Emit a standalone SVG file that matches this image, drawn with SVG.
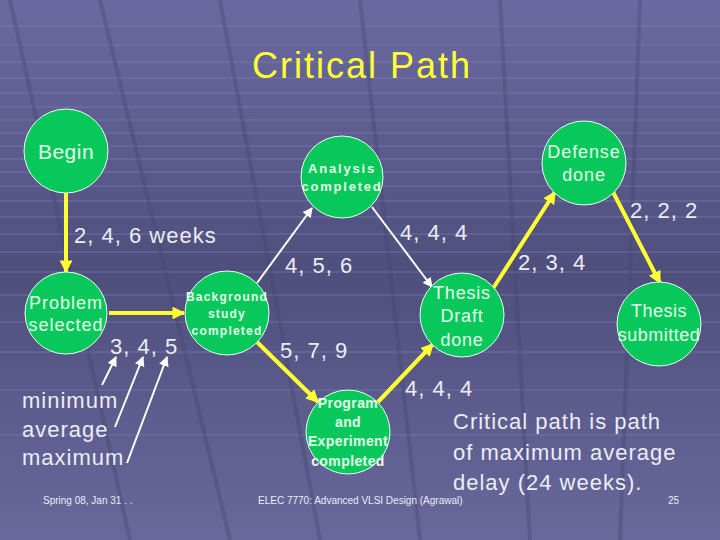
<svg xmlns="http://www.w3.org/2000/svg" width="720" height="540" viewBox="0 0 720 540">
<defs>
<linearGradient id="bg" x1="0" y1="0" x2="0" y2="1">
<stop offset="0" stop-color="#6a6aa2"/>
<stop offset="0.5" stop-color="#4f4f7d"/>
<stop offset="1" stop-color="#68689c"/>
</linearGradient>
<marker id="ay" viewBox="0 0 10 10" refX="9" refY="5" markerWidth="3.2" markerHeight="3.2" orient="auto" markerUnits="strokeWidth"><path d="M0,0 L10,5 L0,10 z" fill="#ffff33"/></marker>
<marker id="aw" viewBox="0 0 10 10" refX="9" refY="5" markerWidth="5" markerHeight="5" orient="auto" markerUnits="strokeWidth"><path d="M0,0 L10,5 L0,10 z" fill="#ffffff"/></marker>
</defs>
<style>
.node{fill:#08c85c;stroke:#e8fff0;stroke-width:1}
.nt{font-family:"Liberation Sans",Arial,sans-serif;fill:#e4ffe8;text-anchor:middle}
.lbl{font-family:"Liberation Sans",Arial,sans-serif;fill:#ececf4;font-size:22px;letter-spacing:1px}
.y{stroke:#ffff33;stroke-width:4;fill:none}
.w{stroke:#ffffff;stroke-width:2;fill:none}
.grid{stroke:#8080b4;stroke-width:2;opacity:0.3}
.diag{stroke:#45456e;stroke-width:4;opacity:0.35}
.ft{font-family:"Liberation Sans",Arial,sans-serif;fill:#ececf4;font-size:10px}
</style>
<rect width="720" height="540" fill="url(#bg)"/>
<g class="grid">
<line x1="0" y1="26" x2="720" y2="26"/>
<line x1="0" y1="45" x2="720" y2="45"/>
<line x1="0" y1="62" x2="720" y2="62"/>
<line x1="0" y1="78" x2="720" y2="78"/>
<line x1="0" y1="93" x2="720" y2="93"/>
<line x1="0" y1="107" x2="720" y2="107"/>
<line x1="0" y1="120" x2="720" y2="120"/>
<line x1="0" y1="133" x2="720" y2="133"/>
<line x1="0" y1="146" x2="720" y2="146"/>
<line x1="0" y1="159" x2="720" y2="159"/>
<line x1="0" y1="172" x2="720" y2="172"/>
<line x1="0" y1="186" x2="720" y2="186"/>
<line x1="0" y1="201" x2="720" y2="201"/>
<line x1="0" y1="217" x2="720" y2="217"/>
<line x1="0" y1="234" x2="720" y2="234"/>
<line x1="0" y1="252" x2="720" y2="252"/>
<line x1="0" y1="272" x2="720" y2="272"/>
<line x1="0" y1="295" x2="720" y2="295"/>
<line x1="0" y1="322" x2="720" y2="322"/>
<line x1="0" y1="352" x2="720" y2="352"/>
<line x1="0" y1="390" x2="720" y2="390"/>
<line x1="0" y1="435" x2="720" y2="435"/>
</g>
<g class="diag">
<line x1="10" y1="0" x2="130" y2="540"/>
<line x1="100" y1="0" x2="230" y2="540"/>
<line x1="220" y1="0" x2="320" y2="540"/>
<line x1="360" y1="0" x2="420" y2="540"/>
<line x1="500" y1="0" x2="530" y2="540"/>
<line x1="640" y1="0" x2="620" y2="540"/>
</g>
<text x="362" y="78" font-family="Liberation Sans,Arial,sans-serif" font-size="36" letter-spacing="2" fill="#ffff33" text-anchor="middle">Critical Path</text>
<g id="connectors">
<line class="y" x1="66" y1="193" x2="66" y2="272" marker-end="url(#ay)"/>
<line class="y" x1="109" y1="313" x2="184" y2="313" marker-end="url(#ay)"/>
<line class="w" x1="257" y1="283" x2="312" y2="208" marker-end="url(#aw)"/>
<line class="w" x1="372" y1="207" x2="432" y2="287" marker-end="url(#aw)"/>
<line class="y" x1="257" y1="342" x2="318" y2="402" marker-end="url(#ay)"/>
<line class="y" x1="378" y1="402" x2="433" y2="344" marker-end="url(#ay)"/>
<line class="y" x1="492" y1="290" x2="555" y2="192" marker-end="url(#ay)"/>
<line class="y" x1="613" y1="192" x2="660" y2="283" marker-end="url(#ay)"/>
<line class="w" stroke-width="1.5" x1="102" y1="385" x2="116" y2="357" marker-end="url(#aw)"/>
<line class="w" stroke-width="1.5" x1="115" y1="427" x2="143" y2="357" marker-end="url(#aw)"/>
<line class="w" stroke-width="1.5" x1="127" y1="463" x2="167" y2="357" marker-end="url(#aw)"/>
</g>
<g id="begin"><circle class="node" cx="66" cy="151" r="42"/><text class="nt" x="66" y="159" font-size="21" letter-spacing="0.5">Begin</text></g>
<g id="problem"><circle class="node" cx="66" cy="313" r="41"/><text class="nt" x="66" y="309" font-size="18" letter-spacing="1">Problem</text><text class="nt" x="66" y="331" font-size="18" letter-spacing="1">selected</text></g>
<g id="background"><circle class="node" cx="227" cy="313" r="42"/><text class="nt" x="227" y="301" font-size="12" font-weight="bold" letter-spacing="1.2">Background</text><text class="nt" x="227" y="318" font-size="12" font-weight="bold" letter-spacing="1.2">study</text><text class="nt" x="227" y="335" font-size="12" font-weight="bold" letter-spacing="1.2">completed</text></g>
<g id="analysis"><circle class="node" cx="342" cy="177" r="41"/><text class="nt" x="342" y="173" font-size="13" font-weight="bold" letter-spacing="1.8">Analysis</text><text class="nt" x="342" y="191" font-size="13" font-weight="bold" letter-spacing="1.8">completed</text></g>
<g id="defense"><circle class="node" cx="584" cy="163" r="42"/><text class="nt" x="584" y="158" font-size="18" letter-spacing="0.9">Defense</text><text class="nt" x="584" y="181" font-size="18" letter-spacing="0.9">done</text></g>
<g id="draft"><circle class="node" cx="462" cy="315" r="42"/><text class="nt" x="462" y="299" font-size="18" letter-spacing="0.8">Thesis</text><text class="nt" x="462" y="322" font-size="18" letter-spacing="0.8">Draft</text><text class="nt" x="462" y="346" font-size="18" letter-spacing="0.8">done</text></g>
<g id="submitted"><circle class="node" cx="659" cy="324" r="42"/><text class="nt" x="659" y="317" font-size="18" letter-spacing="0.5">Thesis</text><text class="nt" x="659" y="341" font-size="18" letter-spacing="0.5">submitted</text></g>
<g id="program"><circle class="node" cx="348" cy="432" r="42"/><text class="nt" x="348" y="408" font-size="14" font-weight="bold" letter-spacing="0.4">Program</text><text class="nt" x="348" y="427" font-size="14" font-weight="bold" letter-spacing="0.4">and</text><text class="nt" x="348" y="446" font-size="14" font-weight="bold" letter-spacing="0.4">Experiment</text><text class="nt" x="348" y="466" font-size="14" font-weight="bold" letter-spacing="0.4">completed</text></g>
<g id="labels">
<text class="lbl" x="74" y="243">2, 4, 6 weeks</text>
<text class="lbl" x="400" y="240">4, 4, 4</text>
<text class="lbl" x="285" y="273">4, 5, 6</text>
<text class="lbl" x="518" y="270">2, 3, 4</text>
<text class="lbl" x="630" y="218">2, 2, 2</text>
<text class="lbl" x="110" y="354">3, 4, 5</text>
<text class="lbl" x="280" y="358">5, 7, 9</text>
<text class="lbl" x="405" y="396">4, 4, 4</text>
<text class="lbl" x="22" y="408" letter-spacing="1.5">minimum</text>
<text class="lbl" x="22" y="437" letter-spacing="1.5">average</text>
<text class="lbl" x="22" y="465" letter-spacing="1.5">maximum</text>
<text class="lbl" x="453" y="429" font-size="23">Critical path is path</text>
<text class="lbl" x="453" y="460" font-size="23">of maximum average</text>
<text class="lbl" x="453" y="490" font-size="23">delay (24 weeks).</text>
</g>
<text class="ft" x="43" y="504">Spring 08, Jan 31 . .</text>
<text class="ft" x="258" y="504">ELEC 7770: Advanced VLSI Design (Agrawal)</text>
<text class="ft" x="668" y="504">25</text>
</svg>
